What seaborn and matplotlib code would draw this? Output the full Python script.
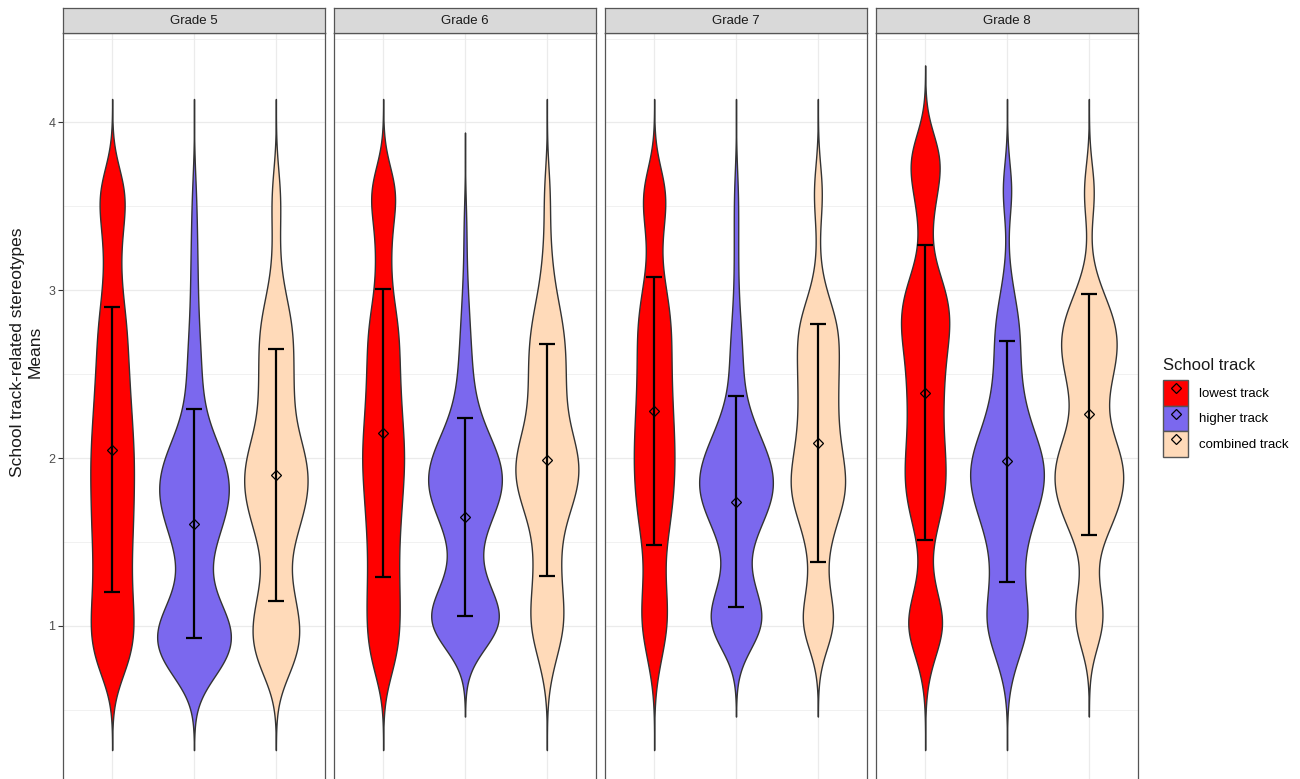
import numpy as np
import pandas as pd
import matplotlib
matplotlib.use("Agg")
import matplotlib.pyplot as plt
from matplotlib.patches import Patch
from matplotlib.lines import Line2D
from matplotlib.ticker import MultipleLocator
import seaborn as sns

grades = ["Grade 5", "Grade 6", "Grade 7", "Grade 8"]
tracks = ["lowest track", "higher track", "combined track"]
colors = ["#FF0000", "#7B68EE", "#FFDAB9"]

# answer levels and number of pupils per level (estimated from the violin shapes)
levels = [0.8, 1.0, 1.2, 1.4, 1.6, 1.8, 2.0, 2.2, 2.4, 2.6, 2.8, 3.0, 3.2, 3.4, 3.6, 3.8]
counts_g5 = [
    [65, 73, 61, 60, 66, 68, 70, 63, 56, 50, 47, 30, 24, 35, 55, 0],
    [129, 139, 51, 46, 92, 126, 102, 41, 24, 23, 15, 12, 11, 9, 7, 0],
    [71, 83, 50, 35, 73, 105, 99, 54, 53, 53, 54, 24, 9, 13, 17, 0],
]
counts_g6 = [
    [47, 56, 53, 49, 55, 63, 72, 63, 55, 53, 52, 25, 24, 27, 60, 0],
    [0, 165, 83, 33, 70, 135, 121, 54, 26, 21, 15, 9, 4, 6, 0, 0],
    [25, 65, 48, 40, 49, 103, 114, 64, 58, 62, 54, 26, 14, 8, 13, 0],
]
counts_g7 = [
    [20, 50, 39, 30, 51, 64, 68, 63, 57, 55, 58, 40, 17, 31, 52, 0],
    [0, 125, 62, 25, 79, 139, 115, 56, 21, 23, 15, 7, 7, 7, 8, 0],
    [0, 78, 32, 25, 54, 106, 81, 62, 66, 67, 75, 20, 2, 6, 22, 0],
]
counts_g8 = [
    [20, 85, 33, 10, 41, 73, 68, 56, 61, 65, 90, 75, 17, 20, 40, 70],
    [30, 85, 57, 49, 78, 126, 129, 73, 47, 41, 45, 19, 3, 1, 26, 0],
    [0, 64, 36, 12, 74, 118, 118, 52, 57, 96, 96, 38, 2, 5, 28, 0],
]

# means and standard deviations per grade
mean_lowest = [2.05, 2.15, 2.28, 2.39]
mean_higher = [1.61, 1.65, 1.74, 1.98]
mean_combined = [1.90, 1.99, 2.09, 2.26]
sd_lowest = [0.85, 0.86, 0.80, 0.88]
sd_higher = [0.68, 0.59, 0.63, 0.72]
sd_combined = [0.75, 0.69, 0.71, 0.72]

frames = []
for g, cnts in zip(grades, [counts_g5, counts_g6, counts_g7, counts_g8]):
    for t, c in zip(tracks, cnts):
        frames.append(pd.DataFrame({"grade": g, "track": t,
                                    "value": np.repeat(levels, c)}))
df = pd.concat(frames, ignore_index=True)

BW = 0.16


def fixed_bw(kde):
    # same kernel width for every violin
    return BW / kde.dataset.std(ddof=1)


plt.rcParams["font.family"] = ["Liberation Sans", "DejaVu Sans"]

W, H = 1300, 779
fig = plt.figure(figsize=(W / 100, H / 100), dpi=100)
panel_left = [63, 334, 605, 876]
panel_w = 262

for i, g in enumerate(grades):
    ax = fig.add_axes([panel_left[i] / W, -3.5 / H, panel_w / W, (782.5 - 33) / H])
    sub = df[df["grade"] == g]
    sns.violinplot(data=sub, x="track", y="value", hue="track",
                   order=tracks, hue_order=tracks, palette=colors,
                   saturation=1, width=0.9, cut=0.54 / BW, gridsize=300,
                   bw_method=fixed_bw, density_norm="area", common_norm=True,
                   inner=None, linewidth=1.0, linecolor="#333333",
                   legend=False, ax=ax)

    m = [mean_lowest[i], mean_higher[i], mean_combined[i]]
    s = [sd_lowest[i], sd_higher[i], sd_combined[i]]
    xpos = np.arange(len(tracks))
    ax.errorbar(xpos, m, yerr=s, fmt="none", ecolor="black",
                elinewidth=1.6, capsize=6, capthick=1.6, zorder=4)
    ax.plot(xpos, m, linestyle="none", marker="D", markersize=5.5,
            markerfacecolor="none", markeredgecolor="black",
            markeredgewidth=0.9, zorder=5)

    ax.set_xlim(-0.6, 2.6)
    ax.set_ylim(0.067, 4.533)
    ax.yaxis.set_major_locator(MultipleLocator(1))
    ax.yaxis.set_minor_locator(MultipleLocator(0.5))
    ax.grid(which="major", color="#EBEBEB", linewidth=0.9)
    ax.grid(which="minor", axis="y", color="#EBEBEB", linewidth=0.5)
    ax.set_axisbelow(True)
    ax.set_xlabel("")
    ax.set_ylabel("")
    ax.tick_params(axis="x", length=0, labelbottom=False)
    ax.tick_params(axis="y", which="minor", length=0)
    if i == 0:
        ax.tick_params(axis="y", which="major", length=3.5, width=0.8,
                       color="#333333", labelcolor="#4D4D4D", labelsize=9, pad=2)
    else:
        ax.tick_params(axis="y", which="major", length=0, labelleft=False)
    for sp in ax.spines.values():
        sp.set_color("#555555")
        sp.set_linewidth(0.9)

    # facet strip
    sax = fig.add_axes([panel_left[i] / W, 1 - 33 / H, panel_w / W, 25 / H])
    sax.set_facecolor("#D9D9D9")
    sax.set_xticks([])
    sax.set_yticks([])
    for sp in sax.spines.values():
        sp.set_color("#555555")
        sp.set_linewidth(0.9)
    sax.text(0.5, 0.5, g, ha="center", va="center", fontsize=9.5,
             color="#1A1A1A", transform=sax.transAxes)

fig.text(26 / W, 1 - 352 / H, "School track-related stereotypes\nMeans",
         rotation=90, ha="center", va="center", multialignment="center",
         fontsize=12.5, color="#1A1A1A")

# legend: title as separate text so the keys can sit flush
fig.text(1163 / W, 1 - 365 / H, "School track", ha="left", va="center",
         fontsize=12, color="#1A1A1A")
handles = [
    (Patch(facecolor=c, edgecolor="#555555", linewidth=1.0),
     Line2D([], [], linestyle="none", marker="D", markersize=5,
            markerfacecolor="none", markeredgecolor="black", markeredgewidth=0.9))
    for c in colors
]
fig.legend(handles, tracks, loc="upper left", bbox_to_anchor=(1163 / W, 1 - 380 / H),
           frameon=False, fontsize=9.5,
           handlelength=1.9, handleheight=2.6, labelspacing=0.0,
           handletextpad=0.8, borderpad=0, borderaxespad=0)

fig.savefig("out.png", dpi=100)
